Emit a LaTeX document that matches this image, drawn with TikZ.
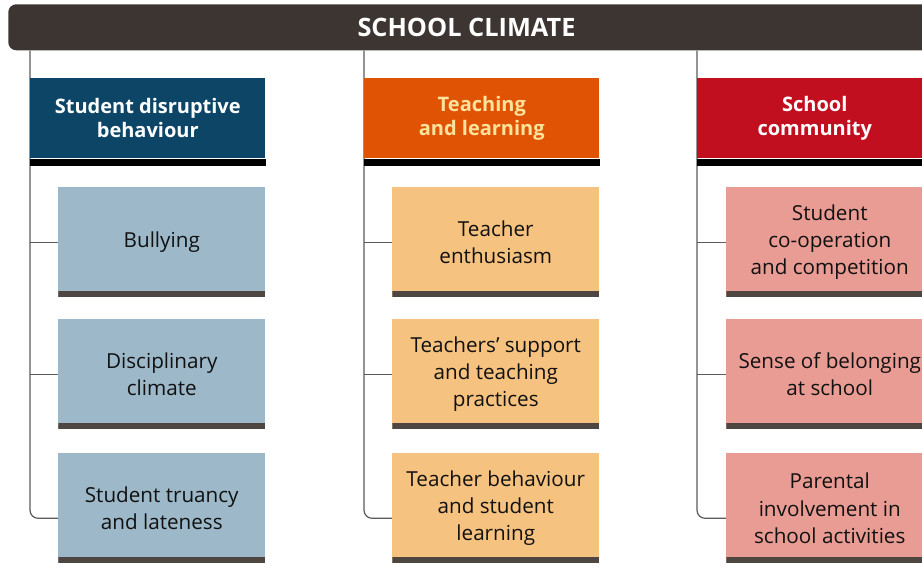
\documentclass[tikz,border=0pt]{standalone}
\usepackage{fontspec}
\setmainfont{Open Sans}
\usetikzlibrary{backgrounds}
\definecolor{barbrown}{HTML}{3D3531}
\definecolor{hdblue}{HTML}{0C4566}
\definecolor{hdorange}{HTML}{E05305}
\definecolor{hdred}{HTML}{C10F1F}
\definecolor{hdcream}{HTML}{FCE39C}
\definecolor{itblue}{HTML}{9DB9C9}
\definecolor{itorange}{HTML}{F6C27F}
\definecolor{itpink}{HTML}{E99C94}
\definecolor{itbar}{HTML}{4D4641}
\definecolor{ittext}{HTML}{111111}
\definecolor{linegray}{HTML}{5A5A5A}
\begin{document}
\begin{tikzpicture}[x=0.75pt,y=-0.75pt,
        titlebar/.style={fill=barbrown,rounded corners=6pt,anchor=north west,
            inner sep=0pt,minimum width=705pt,minimum height=34.5pt},
        titletext/.style={text=white,font=\bfseries\fontsize{19}{22}\selectfont},
        header/.style={anchor=north west,inner sep=0pt,align=center,
            minimum width=176.25pt,minimum height=60pt,
            font=\bfseries\fontsize{15}{18}\selectfont},
        item/.style={anchor=north west,inner sep=0pt,align=center,text=ittext,
            minimum width=155.25pt,minimum height=82.5pt,
            font=\fontsize{15.5}{20.5}\selectfont,
            path picture={\fill[itbar] (path picture bounding box.south west)
                rectangle ([yshift=4.5pt]path picture bounding box.south east);}},
        link/.style={draw=linegray,line width=0.9pt},
        ]
    \useasboundingbox (0,0) rectangle (922,567);
    \node (bar) [titlebar] at (8,4) {};
    \node (title) [titletext] at (466.5,27) {SCHOOL CLIMATE};
    % column headers
    \node (h1) [header,fill=hdblue,text=white] at (30,78) {Student disruptive\\behaviour};
    \node (h2) [header,fill=hdorange,text=hdcream] at (364,78) {Teaching\\and learning};
    \node (h3) [header,fill=hdred,text=white] at (697,78) {School\\community};
    % items
    \node (s11) [item,fill=itblue] at (58,187) {Bullying};
    \node (s12) [item,fill=itblue] at (58,319) {Disciplinary\\climate};
    \node (s13) [item,fill=itblue] at (58,453) {Student truancy\\and lateness};
    \node (s21) [item,fill=itorange] at (392,187) {Teacher\\enthusiasm};
    \node (s22) [item,fill=itorange] at (392,319) {Teachers’ support\\and teaching\\practices};
    \node (s23) [item,fill=itorange] at (392,453) {Teacher behaviour\\and student\\learning};
    \node (s31) [item,fill=itpink] at (726,187) {Student\\co-operation\\and competition};
    \node (s32) [item,fill=itpink] at (726,319) {Sense of belonging\\at school};
    \node (s33) [item,fill=itpink] at (726,453) {Parental\\involvement in\\school activities};
    % black bars under the headers
    \foreach \n in {h1,h2,h3}
        \fill[black] (\n.south west) rectangle ([yshift=-5.25pt]\n.south east);
    % connectors
    \begin{pgfonlayer}{background}
        \foreach \c in {1,2,3} {
            \draw[link,rounded corners=6pt] (h\c.west |- bar.south) |- ([yshift=-7.5pt]s\c3.west);
            \draw[link] (h\c.west |- s\c1.west) -- (s\c1.west);
            \draw[link] (h\c.west |- s\c2.west) -- (s\c2.west);
        }
    \end{pgfonlayer}
\end{tikzpicture}
\end{document}
